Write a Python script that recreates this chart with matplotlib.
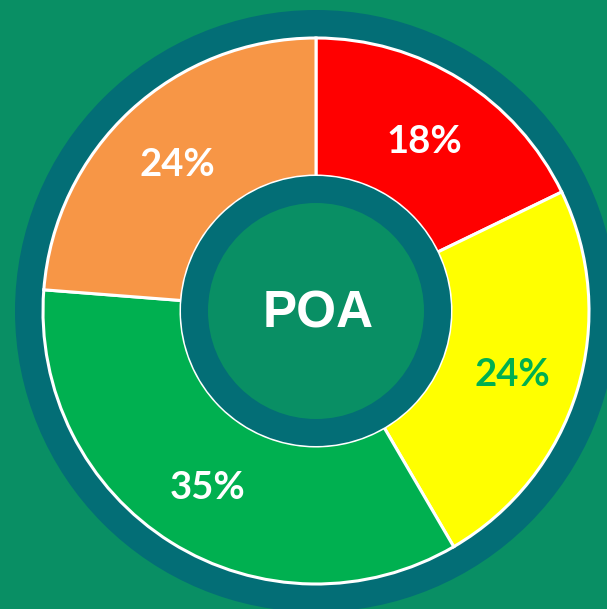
import matplotlib
matplotlib.use("Agg")
import matplotlib.pyplot as plt
from matplotlib.patches import Circle

categories = ["Red", "Yellow", "Green", "Orange"]
values = [18, 24, 35, 24]
labels = ["18%", "24%", "35%", "24%"]
colors = ["#FF0000", "#FFFF00", "#00B050", "#F79646"]
label_colors = ["white", "#00B050", "white", "white"]
center_text = "POA"

BG = "#098F64"
TEAL = "#036E76"

W, H = 607, 609
fig = plt.figure(figsize=(W / 100, H / 100), dpi=100, facecolor=BG)
ax = fig.add_axes([0, 0, 1, 1])
ax.set_facecolor(BG)

cx, cy = 316, H - 311

ax.add_patch(Circle((cx, cy), 301, facecolor=TEAL, edgecolor="none", zorder=0))

lab_iter = iter(labels)
wedges, texts, autotexts = ax.pie(
    values, radius=273, center=(cx, cy), startangle=90, counterclock=False,
    colors=colors,
    wedgeprops=dict(width=138, edgecolor="white", linewidth=2.2),
    autopct=lambda p: next(lab_iter), pctdistance=0.75,
    textprops=dict(fontsize=27.5, fontweight="bold", family="Lato"),
)
for t, c in zip(autotexts, label_colors):
    t.set_color(c)
    x, y = t.get_position()
    t.set_position((x, y - 4))

ax.add_patch(Circle((cx, cy), 135, facecolor=TEAL, edgecolor="none", zorder=5))
ax.add_patch(Circle((cx, cy), 108, facecolor=BG, edgecolor="none", zorder=6))
ax.text(cx + 2, cy - 3, center_text, ha="center", va="center", color="white",
        fontsize=37, fontweight="bold", family=["Liberation Sans", "DejaVu Sans"], zorder=7)

ax.set_xlim(0, W)
ax.set_ylim(0, H)
ax.set_aspect("equal")
ax.axis("off")
fig.savefig("out.png", dpi=100, facecolor=BG)
